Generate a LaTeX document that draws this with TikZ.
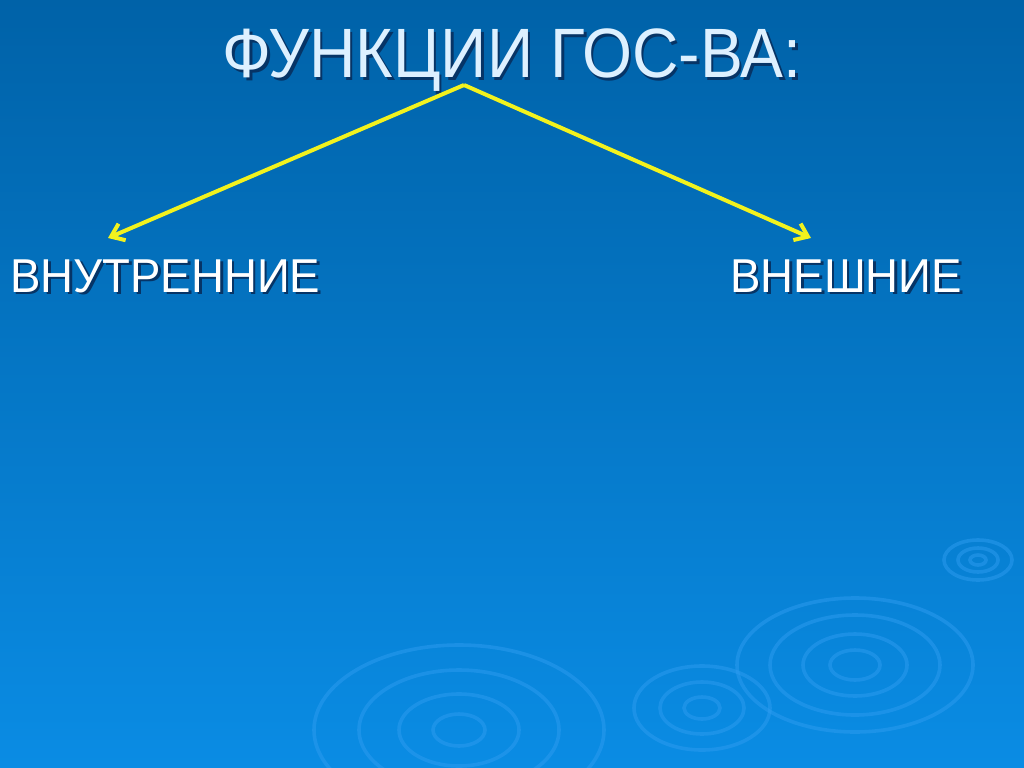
\documentclass[tikz,border=0pt]{standalone}
\usepackage{fontspec}
\setmainfont{Liberation Sans}
\usetikzlibrary{arrows.meta}

\definecolor{bgtop}{HTML}{0062A8}
\definecolor{bgbot}{HTML}{0A8CE4}
\definecolor{ripple}{HTML}{2E9CF0}
\definecolor{ttlcol}{HTML}{DDF0FF}
\definecolor{shdcol}{HTML}{063466}
\definecolor{arrcol}{HTML}{F2F21E}

% text with a drop shadow under it
\newcommand\dropshd[1]{\rlap{\kern2pt\raisebox{-2pt}{\textcolor{shdcol}{#1}}}#1}

\tikzset{
	ttl/.style = {anchor=base, font=\fontsize{49.7}{55}\selectfont, inner sep=0, xscale=.92, text=ttlcol},
	lbl/.style = {anchor=base west, font=\fontsize{33.8}{38}\selectfont, inner sep=0, xscale=.96, text=white},
	arr/.style = {line width = 1mm, arrows = {-Straight Barb[length=3mm, width=4.5mm]}, arrcol},
	rip/.style = {ripple, line width = .9mm, opacity=.5}
}

\begin{document}
\begin{tikzpicture}[x=0.25mm, y=-0.25mm]
		\shade[top color=bgtop, bottom color=bgbot] (0,0) rectangle (1024,767);
		\useasboundingbox (0,0) rectangle (1024,767);
		% ripples
		\draw[rip] (978,560) ellipse (34 and 20) (978,560) ellipse (20 and 12) (978,560) ellipse (8 and 5);
		\draw[rip] (855,665) ellipse (118 and 67) (855,665) ellipse (85 and 50) (855,665) ellipse (52 and 31) (855,665) ellipse (25 and 15);
		\draw[rip] (702,708) ellipse (68 and 42) (702,708) ellipse (42 and 26) (702,708) ellipse (18 and 11);
		\draw[rip] (459,730) ellipse (145 and 85) (459,730) ellipse (100 and 60) (459,730) ellipse (60 and 36) (459,730) ellipse (26 and 16);
		% text
		\node[ttl] (title) at (512,78) {\dropshd{ФУНКЦИИ ГОС-ВА:}};
		\node[lbl] (inner) at (10,292) {\dropshd{ВНУТРЕННИЕ}};
		\node[lbl] (outer) at (730,292) {\dropshd{ВНЕШНИЕ}};
		% arrows
		\coordinate (top) at (464,85);
		\coordinate (innertip) at (108,238);
		\coordinate (outertip) at (811,238);
		\draw[arr] (top) -- (innertip);
		\draw[arr] (top) -- (outertip);
	\end{tikzpicture}
\end{document}
